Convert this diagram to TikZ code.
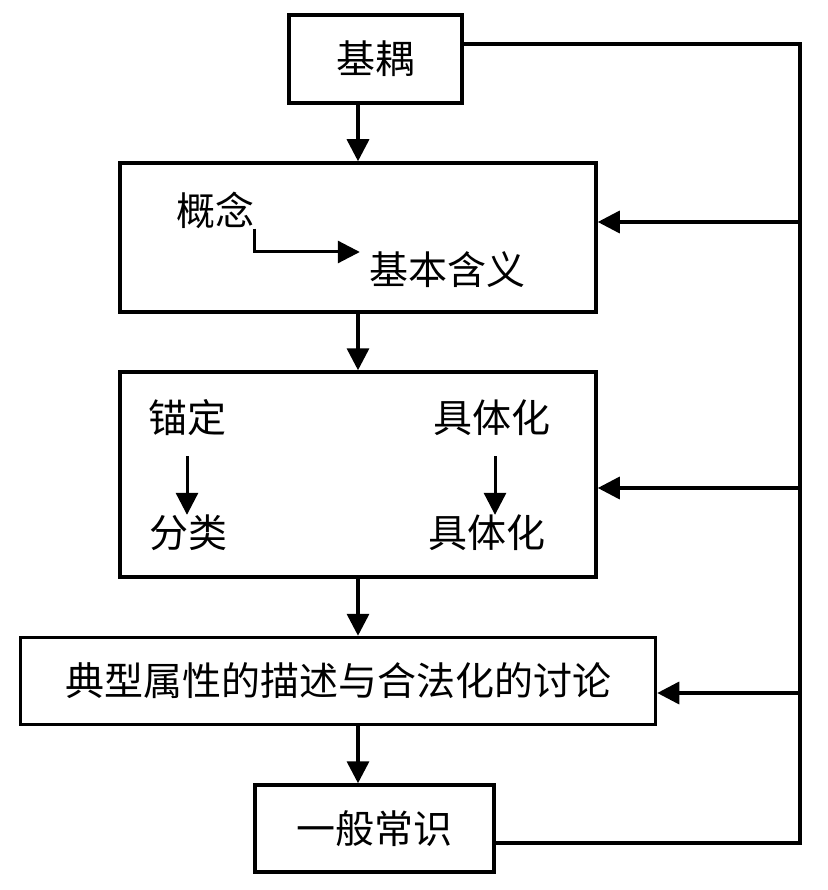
\documentclass[tikz,border=0pt]{standalone}
\usepackage{fontspec}
\newfontfamily\cjk{Noto Sans CJK SC}
\usetikzlibrary{arrows.meta,positioning,calc}

\begin{document}
\begin{tikzpicture}[x=1pt, y=-1pt, font=\cjk\fontsize{39}{42}\selectfont,
  box/.style={draw, line width=3.5pt, inner sep=0pt},
  lbl/.style={inner sep=0pt},
  ln/.style={line width=3.5pt},
  arr/.style={-{Triangle[length=22pt, width=22pt]}, line width=3.5pt},
  inarr/.style={-{Triangle[length=22pt, width=22pt]}, line width=3pt}]
\useasboundingbox (0,0) rectangle (827,890);
% main column
\node[box, minimum width=173pt, minimum height=88pt] (jiou) at (375.5,59) {基耦};
\node[box, minimum width=476pt, minimum height=149pt] (gainian) at (358,237.5) {};
\node[box, minimum width=476pt, minimum height=205pt] (maoding) at (358,474.5) {};
\node[box, minimum width=635pt, minimum height=87pt] (dianxing) at (338,681) {典型属性的描述与合法化的讨论};
\node[box, minimum width=239pt, minimum height=87pt] (changshi) at (374.5,828.5) {一般常识};
% inner labels
\node[lbl] (gn) at (215,210) {概念};
\node[lbl] (jbhy) at (447,270) {基本含义};
\node[lbl] (md) at (187,418) {锚定};
\node[lbl] (fl) at (188,533) {分类};
\node[lbl] (jt1) at (492,418) {具体化};
\node[lbl] (jt2) at (487,533) {具体化};
\draw[inarr] (gn.south east) |- ([xshift=-9pt, yshift=18pt]jbhy.west);
\draw[inarr, shorten <=20pt] (md.south) -- (md.south |- fl.north);
\draw[inarr, shorten <=20pt] ([xshift=3pt]jt1.south) -- ([xshift=3pt]jt1.south |- jt2.north);
% downward flow
\draw[arr] ([xshift=-17.5pt]jiou.south) -- (gainian.north);
\draw[arr] (gainian.south) -- (maoding.north);
\draw[arr] (maoding.south) -- (maoding.south |- dianxing.north);
\draw[arr] (dianxing.south -| maoding.south) -- (changshi.north -| maoding.south);
% feedback line on the right
\coordinate (fb) at (800,44);
\draw[ln] ([yshift=15pt]jiou.east) -- (fb) |- ([yshift=-14.5pt]changshi.east);
\foreach \nd/\dy in {gainian/15.5pt, maoding/-13.5pt, dianxing/-12pt} {
  \path ([yshift=\dy]\nd.east) coordinate (\nd-in);
  \draw[arr] (fb |- \nd-in) -- (\nd-in);
}
\end{tikzpicture}
\end{document}
